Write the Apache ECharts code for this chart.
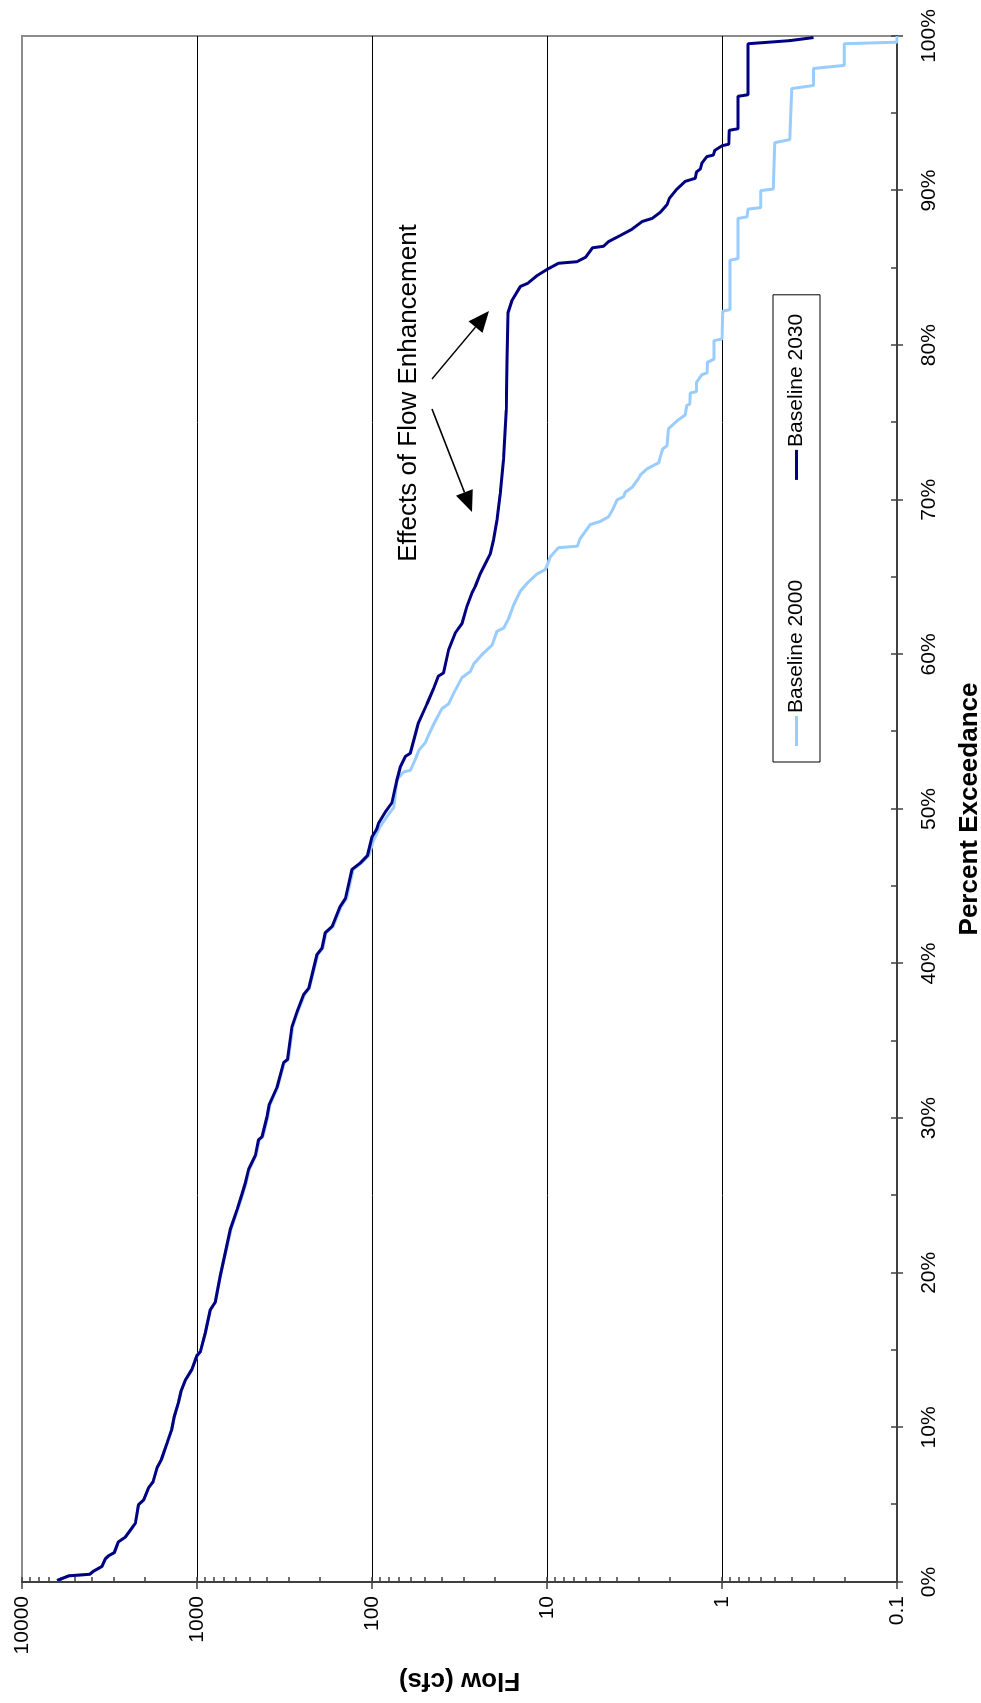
<!DOCTYPE html>
<html>
<head>
<meta charset="utf-8">
<script src="https://cdn.jsdelivr.net/npm/echarts@6.0.0/dist/echarts.min.js"></script>
<style>
html, body { margin: 0; padding: 0; background: #ffffff; overflow: hidden; width: 981px; height: 1703px; }
#chart { position: absolute; left: 0; top: 0; width: 1703px; height: 981px; transform-origin: 0 0; transform: translateY(1703px) rotate(-90deg); }
</style>
</head>
<body>
<div id="chart"></div>
<script>
// ---------- data (percent exceedance, flow in cfs) ----------
const pct2030 = [0.1, 0.4, 0.5, 0.7, 1.0, 1.5, 1.7, 1.9, 2.6, 2.9, 3.5, 3.8, 5.0, 5.3, 6.1, 6.5, 7.4, 7.9, 9.0, 9.8,
  10.7, 11.7, 12.4, 13.1, 13.75, 14.65, 14.9, 16.1, 17.6, 18.1, 19.8, 22.8, 24.1, 25.1, 25.8, 26.7, 27.6, 28.6, 28.8, 30.1,
  30.9, 32.0, 33.6, 33.8, 35.9, 36.9, 38.0, 38.4, 40.6, 41.0, 42.0, 42.4, 43.7, 44.2, 46.1, 46.5, 47.0, 48.2, 48.7, 49.1,
  49.8, 50.4, 51.9, 52.7, 53.4, 53.6, 55.6, 56.8, 57.8, 58.6, 58.8, 60.3, 61.4, 62.0, 63.1, 64.0, 64.4, 65.2, 66.1, 66.5,
  67.4, 68.7, 70.4, 72.6, 75.8, 79.0, 82.1, 82.9, 83.8, 84.0, 84.5, 84.9, 85.3, 85.4, 85.7, 86.3, 86.4, 86.7, 87.1, 87.5,
  88.0, 88.2, 88.6, 89.1, 89.5, 90.1, 90.6, 90.8, 91.2, 91.4, 91.8, 92.2, 92.3, 92.6, 92.9, 93.0, 93.9, 94.0, 96.1, 96.2,
  99.5, 99.7, 99.8, 99.9];
const flow2030 = [6300, 5400, 4100, 3900, 3500, 3340, 3200, 2970, 2810, 2570, 2350, 2250, 2160, 2020, 1890, 1780, 1690, 1600, 1480, 1400,
  1350, 1270, 1230, 1160, 1070, 1000, 957, 897, 840, 786, 736, 646, 590, 553, 530, 507, 464, 445, 425, 398,
  386, 349, 320, 304, 287, 268, 246, 230, 206, 193, 185, 169, 152, 142, 130, 117, 106, 100, 94, 91.6,
  84, 77, 72, 69, 64.5, 60.4, 54.2, 48.5, 44.5, 41.7, 39, 36.5, 33.4, 30.6, 28.7, 26.8, 25.7, 24.1, 22.0, 21.1,
  20.2, 19.3, 18.5, 17.7, 17.1, 16.9, 16.7, 15.85, 14.2, 12.9, 11.4, 10.0, 8.6, 6.75, 6.0, 5.5, 4.75, 4.45, 3.81, 3.27,
  2.86, 2.51, 2.25, 2.06, 2.0, 1.81, 1.62, 1.42, 1.40, 1.33, 1.30, 1.22, 1.12, 1.10, 1.0, 0.916, 0.91, 0.81, 0.81, 0.71,
  0.71, 0.41, 0.40, 0.30];

const pct2000 = [0.1, 0.4, 0.5, 0.7, 1.0, 1.5, 1.7, 1.9, 2.6, 2.9, 3.5, 3.8, 5.0, 5.3, 6.1, 6.5, 7.4, 7.9, 9.0, 9.8,
  10.7, 11.7, 12.4, 13.1, 13.75, 14.65, 14.9, 16.1, 17.6, 18.1, 19.8, 22.8, 24.1, 25.1, 25.8, 26.7, 27.6, 28.6, 28.8, 30.1,
  30.9, 32.0, 33.6, 33.8, 35.9, 36.9, 38.0, 38.4, 40.6, 41.0, 42.0, 42.4, 43.7, 44.2, 46.1, 46.5, 47.0, 48.0, 48.9, 49.7,
  50.1, 51.9, 52.4, 52.5, 53.2, 53.8, 54.3, 54.8, 55.7, 56.5, 56.8, 57.5, 58.5, 58.9, 59.4, 60.1, 60.6, 61.5, 61.7, 62.3,
  63.2, 64.1, 64.6, 65.2, 65.5, 66.0, 66.3, 66.9, 67.0, 67.5, 68.4, 68.6, 68.9, 69.4, 70.0, 70.2, 70.5, 70.8, 71.4, 71.6,
  72.0, 72.4, 72.8, 73.3, 73.5, 74.6, 75.1, 75.5, 76.1, 76.2, 76.9, 77.0, 77.6, 78.1, 78.2, 78.9, 79.1, 80.3, 80.4, 82.2,
  82.3, 85.5, 85.6, 88.2, 88.3, 88.8, 88.9, 90.0, 90.1, 93.1, 93.3, 96.6, 96.8, 97.9, 98.1, 99.5, 99.6, 100];
const flow2000 = [6300, 5400, 4100, 3900, 3500, 3340, 3200, 2970, 2810, 2570, 2350, 2250, 2160, 2020, 1890, 1780, 1690, 1600, 1480, 1400,
  1350, 1270, 1230, 1160, 1070, 1000, 957, 897, 840, 786, 736, 640, 585, 548, 525, 502, 460, 441, 421, 394,
  382, 346, 317, 301, 284, 265, 243, 228, 204, 191, 183, 167, 150, 140, 128, 115, 104, 98, 89.5, 80,
  75, 72, 66, 60.4, 56.6, 54, 49.6, 47.5, 43.4, 39.8, 36.5, 34.1, 30.6, 27.4, 26.2, 23, 20.6, 19.3, 17.7, 16.6,
  15.5, 14.2, 13, 11.4, 10.2, 9.8, 9.6, 8.6, 6.7, 6.46, 5.66, 4.96, 4.45, 4.2, 3.98, 3.65, 3.57, 3.27, 2.99, 2.93,
  2.68, 2.30, 2.25, 2.18, 2.06, 2.02, 1.81, 1.62, 1.59, 1.53, 1.52, 1.40, 1.40, 1.30, 1.22, 1.21, 1.11, 1.11, 1.0, 0.99,
  0.90, 0.90, 0.81, 0.81, 0.72, 0.71, 0.60, 0.60, 0.51, 0.50, 0.41, 0.40, 0.30, 0.30, 0.20, 0.20, 0.1, 0.1];

const seriesNames = ['Baseline 2000', 'Baseline 2030'];
const flowTicks = [0.1, 1, 10, 100, 1000, 10000];
const flowMinorTicks = [0.2, 0.3, 0.4, 0.5, 0.6, 0.7, 0.8, 0.9, 2, 3, 4, 5, 6, 7, 8, 9,
  20, 30, 40, 50, 60, 70, 80, 90, 200, 300, 400, 500, 600, 700, 800, 900,
  2000, 3000, 4000, 5000, 6000, 7000, 8000, 9000];
const annotationText = 'Effects of Flow Enhancement';

// ---------- chart ----------
const FONT = '"Liberation Sans", Arial, Helvetica, sans-serif';
const chart = echarts.init(document.getElementById('chart'), null, { renderer: 'canvas' });

function pairs(xs, ys) { return xs.map((x, i) => [x, ys[i]]); }

function arrow(x1, y1, x2, y2) {
  const dx = x2 - x1, dy = y2 - y1, len = Math.sqrt(dx * dx + dy * dy);
  const ux = dx / len, uy = dy / len, hl = 21, hw = 9;
  const bx = x2 - ux * hl, by = y2 - uy * hl;
  return [
    { type: 'line', shape: { x1: x1, y1: y1, x2: bx, y2: by }, style: { stroke: '#000', lineWidth: 1.6 }, z: 50 },
    { type: 'polygon', shape: { points: [[x2, y2], [bx - uy * hw, by + ux * hw], [bx + uy * hw, by - ux * hw]] }, style: { fill: '#000' }, z: 50 }
  ];
}

const axisDark = '#404040';

const option = {
  animation: false,
  backgroundColor: '#ffffff',
  textStyle: { fontFamily: FONT },
  grid: { left: 121, right: 36, top: 22, bottom: 84, show: true, borderColor: '#8c8c8c', borderWidth: 2, backgroundColor: '#ffffff', outerBoundsMode: 'none', containLabel: false },
  legend: {
    show: true,
    data: seriesNames.map(function (n) { return { name: n, icon: 'rect' }; }),
    left: 941, top: 773,
    orient: 'horizontal',
    itemWidth: 30, itemHeight: 3, itemGap: 100,
    padding: [13, 19, 13, 16],
    borderColor: '#000', borderWidth: 1, borderRadius: 0,
    backgroundColor: '#ffffff',
    textStyle: { fontSize: 21, color: '#000', fontFamily: FONT, padding: [0, 0, 0, -2] }
  },
  xAxis: [
    {
      type: 'value', min: 0, max: 100, interval: 10,
      name: 'Percent Exceedance', nameLocation: 'middle', nameGap: 60,
      nameTextStyle: { fontSize: 26, fontWeight: 'bold', color: '#000', fontFamily: FONT },
      axisLine: { show: true, onZero: false, lineStyle: { color: axisDark, width: 2 } },
      axisTick: { show: true, inside: true, length: 6, lineStyle: { color: axisDark, width: 1.5 } },
      minorTick: { show: true, splitNumber: 2, length: 6, lineStyle: { color: axisDark, width: 1.5 } },
      axisLabel: { formatter: '{value}%', fontSize: 21, color: '#000', margin: 22, fontFamily: FONT },
      splitLine: { show: false }, minorSplitLine: { show: false }
    },
    {
      type: 'value', min: 0, max: 100, interval: 10, position: 'bottom',
      axisLine: { show: false, onZero: false },
      axisTick: { show: true, inside: false, length: 6, lineStyle: { color: axisDark, width: 1.5 } },
      axisLabel: { show: false }, splitLine: { show: false }
    }
  ],
  yAxis: [
    {
      type: 'log', logBase: 10, min: 0.1, max: 10000,
      name: 'Flow (cfs)', nameLocation: 'middle', nameGap: 85, nameRotate: 90,
      nameTextStyle: { fontSize: 26, fontWeight: 'bold', color: '#000', fontFamily: FONT },
      axisLine: { show: true, onZero: false, lineStyle: { color: axisDark, width: 2 } },
      axisTick: { show: true, inside: false, length: 7, customValues: flowTicks, lineStyle: { color: axisDark, width: 1.5 } },
      axisLabel: { fontSize: 21, color: '#000', margin: 14, customValues: flowTicks, fontFamily: FONT,
        formatter: function (v) { return v < 1 ? String(Math.round(v * 10) / 10) : String(Math.round(v)); } },
      splitLine: { show: true, showMinLine: false, showMaxLine: false, lineStyle: { color: '#000', width: 1 } }
    },
    {
      type: 'log', logBase: 10, min: 0.1, max: 10000, position: 'left',
      axisLine: { show: false, onZero: false },
      axisTick: { show: true, inside: true, length: 5, customValues: flowMinorTicks.concat(flowTicks), lineStyle: { color: axisDark, width: 1.5 } },
      axisLabel: { show: false }, splitLine: { show: false }
    }
  ],
  series: [
    {
      name: seriesNames[0], type: 'line', xAxisIndex: 0, yAxisIndex: 0,
      data: pairs(pct2000, flow2000), symbol: 'none', showSymbol: false,
      lineStyle: { color: '#99ccff', width: 3 }, itemStyle: { color: '#99ccff' }, z: 3
    },
    {
      name: seriesNames[1], type: 'line', xAxisIndex: 0, yAxisIndex: 0,
      data: pairs(pct2030, flow2030), symbol: 'none', showSymbol: false,
      lineStyle: { color: '#000080', width: 3 }, itemStyle: { color: '#000080' }, z: 4
    }
  ],
  graphic: [
    { type: 'text', x: 1310, y: 409, style: { text: annotationText, font: '26px ' + FONT, fill: '#000', align: 'center', verticalAlign: 'middle' }, z: 50 }
  ].concat(arrow(1324, 432, 1392, 489)).concat(arrow(1294, 432, 1191, 472))
};

chart.setOption(option);
</script>
</body>
</html>
